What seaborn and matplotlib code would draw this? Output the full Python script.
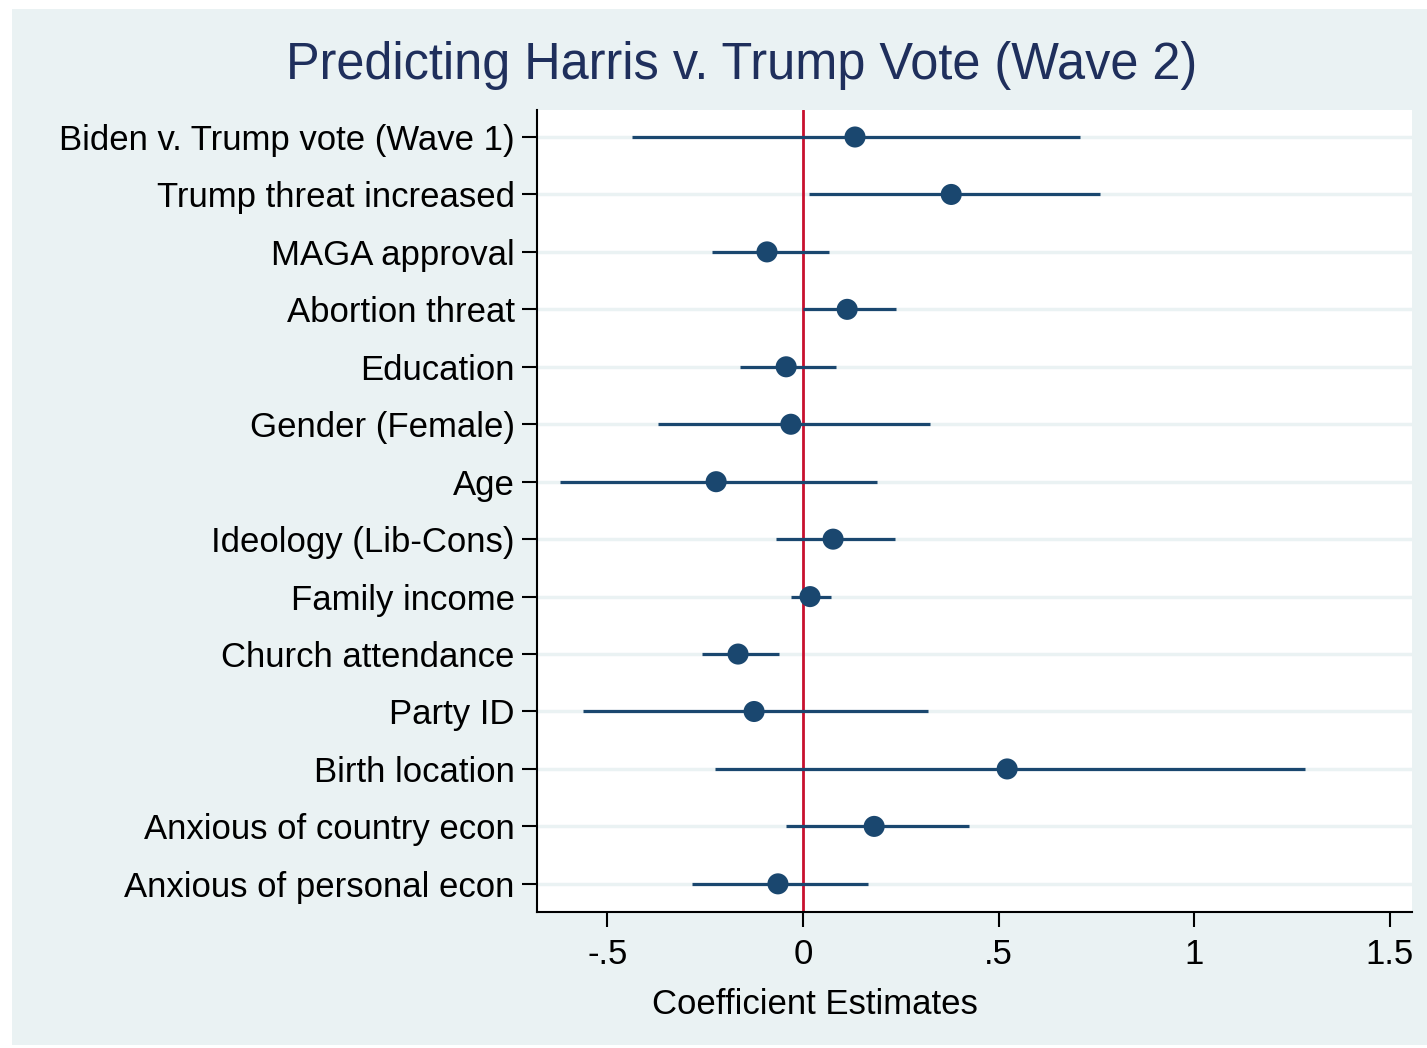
import matplotlib
matplotlib.use("Agg")
import matplotlib.pyplot as plt
import seaborn as sns
import pandas as pd
import numpy as np
from matplotlib.patches import Rectangle

variables = ["Biden v. Trump vote (Wave 1)", "Trump threat increased", "MAGA approval",
             "Abortion threat", "Education", "Gender (Female)", "Age",
             "Ideology (Lib-Cons)", "Family income", "Church attendance", "Party ID",
             "Birth location", "Anxious of country econ", "Anxious of personal econ"]
coef = [0.133, 0.379, -0.092, 0.113, -0.043, -0.031, -0.222, 0.077, 0.018, -0.166,
        -0.125, 0.522, 0.182, -0.064]
ci_low = [-0.437, 0.015, -0.233, 0.000, -0.161, -0.371, -0.621, -0.069, -0.031, -0.258,
          -0.563, -0.225, -0.043, -0.284]
ci_high = [0.708, 0.760, 0.066, 0.238, 0.084, 0.325, 0.189, 0.235, 0.072, -0.061,
           0.320, 1.284, 0.425, 0.166]
xticks = [-0.5, 0, 0.5, 1, 1.5]
xticklabels = ["-.5", "0", ".5", "1", "1.5"]

df = pd.DataFrame({"variable": variables, "coef": coef, "lo": ci_low, "hi": ci_high})
df["pos"] = np.arange(len(df))

sns.set_style("white")
plt.rcParams["font.family"] = ["Liberation Sans", "DejaVu Sans"]
plt.rcParams["text.color"] = "black"
plt.rcParams["xtick.color"] = "black"
plt.rcParams["ytick.color"] = "black"
plt.rcParams["axes.labelcolor"] = "black"

bg = "#EAF2F3"
navy = "#1A476F"
fig = plt.figure(figsize=(14.27, 10.48), dpi=100, facecolor="white")
fig.patches.append(Rectangle((12 / 1427, 3 / 1048), 1415 / 1427, 1036 / 1048,
                             transform=fig.transFigure, facecolor=bg, edgecolor="none", zorder=-10))
ax = fig.add_axes([537 / 1427, 136 / 1048, 875 / 1427, 802 / 1048])
ax.set_facecolor("white")

for p in df["pos"]:
    ax.axhline(p, color=bg, lw=2.5, zorder=0)
ax.axvline(0, color="#C8102E", lw=2.0, zorder=1)
ax.hlines(df["pos"], df["lo"], df["hi"], color=navy, lw=2.3, zorder=2)
sns.scatterplot(data=df, x="coef", y="pos", ax=ax, color=navy, s=230,
                edgecolor="none", zorder=3, legend=False)

ax.set_ylim(13.49, -0.47)
ax.set_xlim(-0.68, 1.557)
ax.set_yticks(df["pos"])
ax.set_yticklabels(df["variable"], fontsize=25)
ax.set_xticks(xticks)
ax.set_xticklabels(xticklabels, fontsize=25)
ax.set_ylabel("")
ax.set_xlabel("")
ax.tick_params(axis="y", length=11, width=1.5, color="black", pad=5, left=True)
ax.tick_params(axis="x", length=11, width=1.5, color="black", pad=8, bottom=True)
for s in ["top", "right"]:
    ax.spines[s].set_visible(False)
for s in ["left", "bottom"]:
    ax.spines[s].set_color("black")
    ax.spines[s].set_linewidth(1.5)

fig.text(815 / 1427, 1 - 1005 / 1048, "Coefficient Estimates", ha="center", va="center",
         fontsize=25, color="black")
fig.text(742 / 1427, 1 - 66 / 1048, "Predicting Harris v. Trump Vote (Wave 2)", ha="center",
         va="center", fontsize=36.4, color="#1F2F5C")

fig.savefig("out.png", dpi=100, facecolor="white")
